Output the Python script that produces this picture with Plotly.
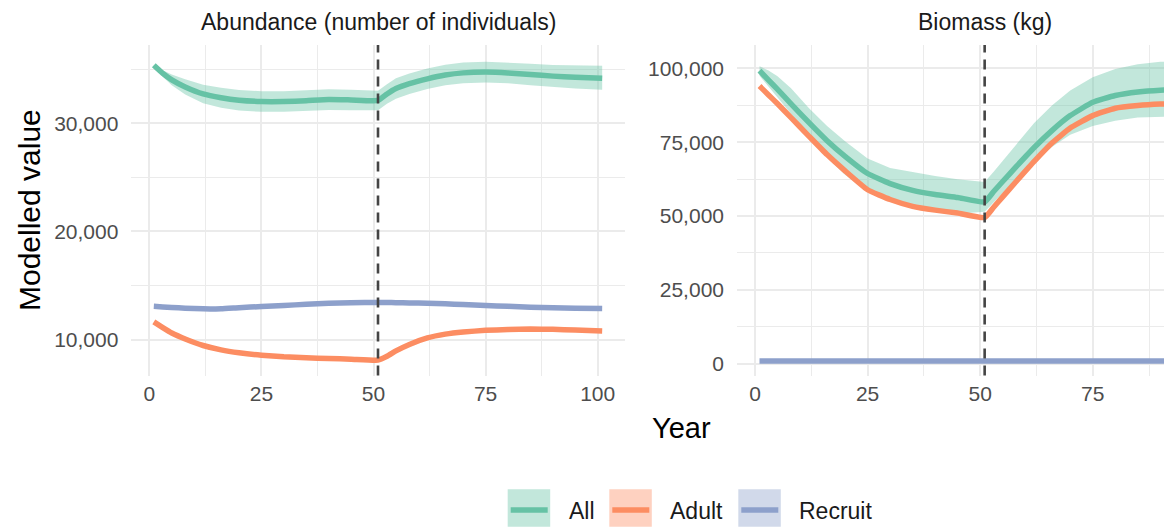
import plotly.graph_objects as go

# ---- data -------------------------------------------------------------
years = [1, 3, 5, 8, 12, 16, 20, 25, 30, 35, 40, 45, 51,
         53, 55, 58, 62, 66, 70, 75, 80, 85, 90, 95, 101]
change_year = 51

# Abundance (number of individuals)
abund_all = [35350, 34600, 34000, 33350, 32700, 32350, 32120, 32000, 32000,
             32080, 32180, 32150, 32100, 32700, 33200, 33650, 34100, 34450,
             34650, 34720, 34650, 34500, 34350, 34250, 34150]
abund_all_hi = [35400, 34900, 34500, 34050, 33550, 33270, 33070, 32950, 32950,
                33030, 33130, 33100, 33000, 33600, 34150, 34600, 35050, 35400,
                35600, 35670, 35620, 35500, 35380, 35320, 35300]
abund_all_lo = [35300, 34300, 33500, 32650, 31850, 31430, 31170, 31050, 31050,
                31130, 31230, 31200, 31200, 31800, 32250, 32700, 33150, 33500,
                33700, 33770, 33680, 33500, 33320, 33200, 33080]
abund_adult = [11630, 11100, 10600, 10050, 9450, 9050, 8780, 8550, 8400,
               8310, 8250, 8190, 8100, 8450, 8950, 9550, 10150, 10500,
               10700, 10850, 10930, 10970, 10950, 10880, 10800]
abund_recruit = [13070, 13020, 12960, 12900, 12840, 12850, 12950, 13050, 13150,
                 13260, 13350, 13400, 13430, 13420, 13410, 13390, 13360, 13300,
                 13230, 13150, 13070, 12990, 12930, 12890, 12860]

# Biomass (kg)
bio_all = [99200, 96000, 92900, 88000, 81600, 75500, 70200, 64400, 61000,
           58700, 57300, 56300, 54800, 58300, 61700, 66700, 73200, 79000,
           84000, 88500, 90800, 92000, 92600, 92800, 92900]
bio_all_hi = [100700, 99300, 97300, 93300, 86500, 80500, 75300, 69500, 66300,
              64900, 63600, 62500, 61500, 65000, 68700, 74000, 81500, 87500,
              92500, 97000, 99800, 101400, 102200, 102600, 102800]
bio_all_lo = [97500, 93800, 90200, 84600, 76500, 69800, 64000, 58200, 55000,
              52800, 51500, 50800, 51500, 54500, 57800, 62500, 68500, 73500,
              77500, 80500, 82300, 83400, 83700, 83900, 84000]
bio_adult = [94000, 91000, 88000, 83300, 77000, 70800, 65300, 58900, 55600,
             53300, 52000, 51000, 49500, 53000, 56500, 61700, 68500, 74800,
             79800, 84000, 86500, 87400, 87900, 88100, 88200]
bio_recruit = [900, 900, 900, 900, 900, 900, 900, 900, 900,
               900, 900, 900, 900, 900, 900, 900, 900, 900,
               900, 900, 900, 900, 900, 900, 900]

group_names = ["All", "Adult", "Recruit"]
group_colors = ["#66C2A5", "#FC8D62", "#8DA0CB"]
group_fills = ["rgba(102,194,165,0.4)", "rgba(252,141,98,0.4)", "rgba(141,160,203,0.4)"]

facet_titles = ["Abundance (number of individuals)", "Biomass (kg)"]
x_ticks = [0, 25, 50, 75, 100]
abund_ticks = [10000, 20000, 30000]
bio_ticks = [0, 25000, 50000, 75000, 100000]

# ---- figure -----------------------------------------------------------
W, H = 1164, 527
FONT = "Liberation Sans, Arial, sans-serif"
GRID = "#EBEBEB"
TICK_COL = "#4D4D4D"
TEXT_COL = "#1A1A1A"


def px_x(p):
    return p / W


def px_y(p):
    return 1 - p / H


def label(text, x, y, size, color=TEXT_COL, xanchor="center", angle=0):
    fig.add_annotation(text=text, x=px_x(x), y=px_y(y), xref="paper", yref="paper",
                       xanchor=xanchor, yanchor="middle", showarrow=False,
                       textangle=angle, font=dict(family=FONT, size=size, color=color))


fig = go.Figure()

panels = [
    ("x", "y", abund_all, abund_all_lo, abund_all_hi, abund_adult, abund_recruit),
    ("x2", "y2", bio_all, bio_all_lo, bio_all_hi, bio_adult, bio_recruit),
]

for xa, ya, mean_all, lo, hi, adult, recruit in panels:
    # uncertainty ribbon for the whole population
    fig.add_trace(go.Scatter(x=years, y=lo, xaxis=xa, yaxis=ya, mode="lines",
                             line=dict(width=0, color=group_colors[0]),
                             hoverinfo="skip", showlegend=False))
    fig.add_trace(go.Scatter(x=years, y=hi, xaxis=xa, yaxis=ya, mode="lines",
                             line=dict(width=0, color=group_colors[0]),
                             fill="tonexty", fillcolor=group_fills[0],
                             hoverinfo="skip", showlegend=False))
    for name, col, vals in zip(group_names, group_colors, [mean_all, adult, recruit]):
        fig.add_trace(go.Scatter(x=years, y=vals, xaxis=xa, yaxis=ya, mode="lines",
                                 name=name, line=dict(color=col, width=5.5, shape="spline",
                                                      smoothing=0.4),
                                 showlegend=False))
    # management change marker
    fig.add_shape(type="line", xref=xa, yref=f"{ya} domain", x0=change_year, x1=change_year,
                  y0=0, y1=1, line=dict(color="#444444", width=2.6, dash="10px,7px"),
                  layer="above")

y_dom = [px_y(375.5), px_y(45)]
common_x = dict(tickvals=x_ticks, ticks="", showline=False, zeroline=False,
                gridcolor=GRID, gridwidth=2, automargin=False, ticklabelstandoff=3,
                tickfont=dict(family=FONT, size=21, color=TICK_COL),
                minor=dict(tickvals=[12.5, 37.5, 62.5, 87.5], showgrid=True,
                           gridcolor=GRID, gridwidth=1.1))
common_y = dict(ticks="", showline=False, zeroline=False, gridcolor=GRID, gridwidth=2,
                automargin=False, tickformat=",", ticklabelstandoff=12,
                tickfont=dict(family=FONT, size=21, color=TICK_COL), domain=y_dom)

fig.update_layout(
    width=W, height=H,
    margin=dict(l=0, r=0, t=0, b=0),
    paper_bgcolor="white", plot_bgcolor="white",
    showlegend=False,
    xaxis=dict(domain=[px_x(131.4), px_x(624.6)], range=[-4, 106], anchor="y", **common_x),
    yaxis=dict(range=[6677, 37227], tickvals=abund_ticks, anchor="x",
               minor=dict(tickvals=[15000, 25000, 35000], showgrid=True,
                          gridcolor=GRID, gridwidth=1.1), **common_y),
    xaxis2=dict(domain=[px_x(737), 1.0], range=[-4, 90.83], anchor="y2", **common_x),
    yaxis2=dict(range=[-3966, 107898], tickvals=bio_ticks, anchor="x2",
                minor=dict(tickvals=[12500, 37500, 62500, 87500], showgrid=True,
                           gridcolor=GRID, gridwidth=1.1), **common_y),
)

# facet strip titles
label(facet_titles[0], 378, 22, 23)
label(facet_titles[1], 984.5, 22, 23)

# axis titles
label("Year", 681, 428, 29, color="black")
label("Modelled value", 30, 210, 30, color="black", angle=-90)

# legend drawn as keys (ribbon fill + line) with labels
key_left = [507.7, 609.3, 738.3]
label_left = [567.3, 668.3, 796.7]
for name, col, fillc, kx, lx in zip(group_names, group_colors, group_fills, key_left, label_left):
    fig.add_shape(type="rect", xref="paper", yref="paper",
                  x0=px_x(kx), x1=px_x(kx + 42.5), y0=px_y(526.7), y1=px_y(489.3),
                  fillcolor=fillc, line=dict(width=0))
    fig.add_shape(type="line", xref="paper", yref="paper",
                  x0=px_x(kx + 3), x1=px_x(kx + 40), y0=px_y(510), y1=px_y(510),
                  line=dict(color=col, width=5.5))
    label(name, lx, 511, 23, xanchor="left")

fig.write_html("out.html")
